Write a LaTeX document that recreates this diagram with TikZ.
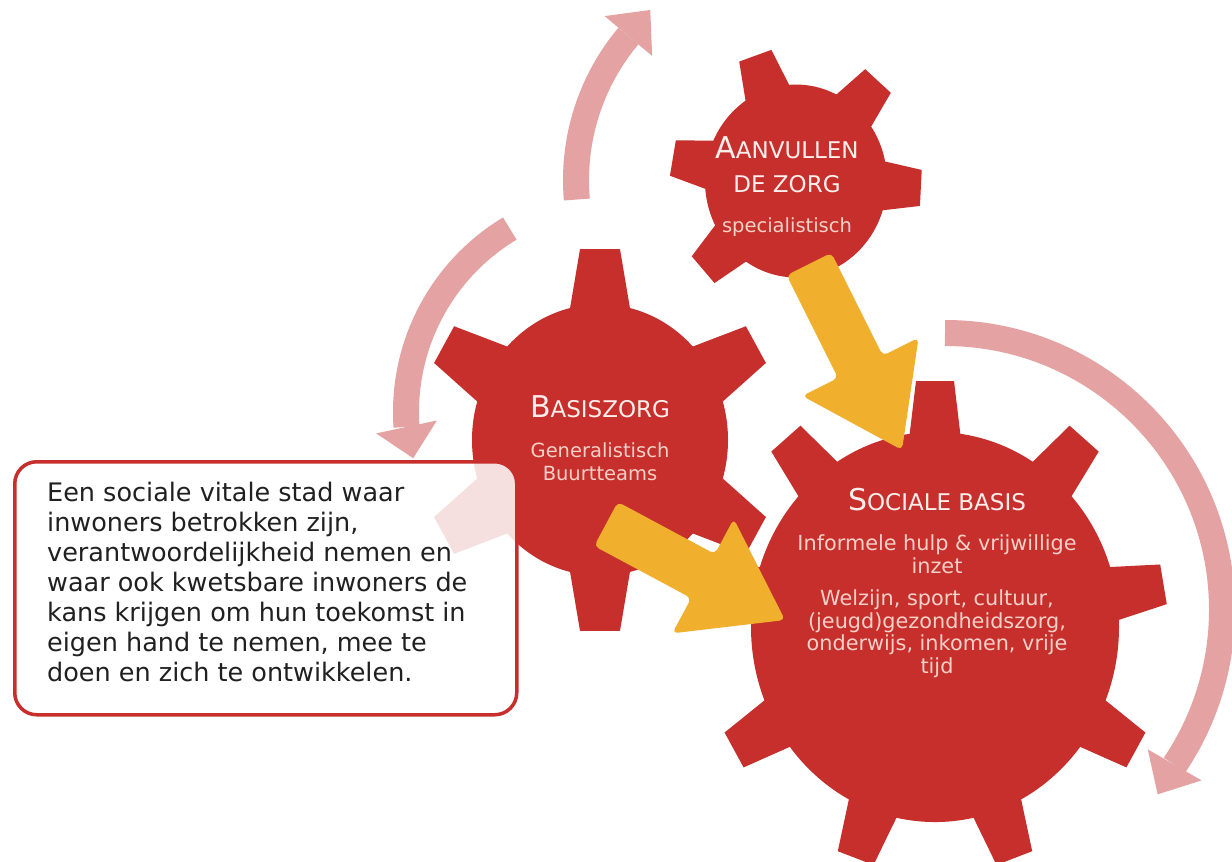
\documentclass[tikz,border=0pt]{standalone}
\usepackage{fontspec}
\setmainfont{DejaVu Sans}
\usetikzlibrary{calc}
\definecolor{gearred}{RGB}{198,47,43}
\definecolor{arrowyellow}{RGB}{240,175,45}
\definecolor{arcpink}{RGB}{228,162,162}
\definecolor{titletxt}{RGB}{253,238,235}
\definecolor{subtxt}{RGB}{247,208,200}
\definecolor{boxtext}{RGB}{32,32,32}
% gear: cx, cy, body radius, tip radius, base half width, tip half width, angles, style
\newcommand\mygear[8]{%
  \path[#8] (#1,#2) circle[radius=#3, y radius=#3*1.06];
  \foreach \a in {#7}{%
    \path[#8, shift={(#1,#2)}, yscale=1.06, rotate=\a]
      (#3-15,-#5) -- (#4,-#6) -- (#4,#6) -- (#3-15,#5) -- cycle;}%
}
% block arrow from tail coordinate #1 to tip coordinate #2
\newcommand\blockarrow[2]{%
  \coordinate (#1s) at ($(#2)!93pt!(#1)$);
  \fill[arrowyellow, rounded corners=5pt]
    ($(#1)!25pt!90:(#2)$) -- ($(#1s)!25pt!90:(#2)$) -- ($(#1s)!65pt!90:(#2)$)
    -- (#2) -- ($(#1s)!65pt!-90:(#2)$) -- ($(#1s)!25pt!-90:(#2)$)
    -- ($(#1)!25pt!-90:(#2)$) -- cycle;%
}
\newcommand\capbig[1]{{\fontsize{30}{30}\selectfont #1}}
\newcommand\capsmall[1]{{\fontsize{23}{23}\selectfont #1}}
\begin{document}
\begin{tikzpicture}[x=1pt,y=-1pt,
  halo/.style={fill=white, draw=white, line width=8pt},
  redfill/.style={fill=gearred},
  band/.style={draw=arcpink, line width=26pt},
  gtitle/.style={text=titletxt, inner sep=0pt, anchor=base},
  gsub/.style={text=subtxt, inner sep=0pt, anchor=base, font=\fontsize{19.5}{22}\selectfont},
  gsubl/.style={text=subtxt, inner sep=0pt, anchor=base, font=\fontsize{20.8}{23}\selectfont},
  boxtxt/.style={text=boxtext, inner sep=0pt, anchor=base west, font=\fontsize{25.5}{30}\selectfont}]
\fill[white] (0,0) rectangle (1232,862);
\useasboundingbox (0,0) rectangle (1232,862);
\clip (0,0) rectangle (1232,862);

% pink circular arrows
\coordinate (c1) at (800,180);
\coordinate (c2) at (620,412);
\coordinate (c3) at (945,610);
\coordinate (p1e) at ([shift={(-140:224)}]c1);
\coordinate (p2e) at ([shift={(-184:214)}]c2);
\coordinate (p3e) at ([shift={(34:277)}]c3);
\draw[band] ([shift={(-185:224)}]c1) arc[start angle=-185, end angle=-140, radius=224];
\fill[arcpink, shift={(p1e)}, rotate=50] (0,-31) -- (34,0) -- (0,31) -- cycle;
\draw[band] ([shift={(-121:214)}]c2) arc[start angle=-121, end angle=-184, radius=214];
\fill[arcpink, shift={(p2e)}, rotate=-78] (0,-31) -- (32,0) -- (0,31) -- cycle;
\draw[band] ([shift={(-90:277)}]c3) arc[start angle=-90, end angle=34, radius=277];
\fill[arcpink, shift={(p3e)}, rotate=-120] (0,-31) -- (34,0) -- (0,31) -- cycle;

% gears
\mygear{796}{181}{91}{125}{25}{17}{109,49,-3,170,222}{halo}
\mygear{796}{181}{91}{125}{25}{17}{109,49,-3,170,222}{redfill}
\mygear{600}{440}{128}{180}{32}{20}{90,30,150,210,270,330}{halo}
\mygear{600}{440}{128}{180}{32}{20}{90,30,150,210,270,330}{redfill}
\mygear{935}{627}{184}{232}{27}{19}{90,50,10,-30,-70,-110,-150,170,130}{halo}
\mygear{935}{627}{184}{232}{27}{19}{90,50,10,-30,-70,-110,-150,170,130}{redfill}

% text box
\node[draw=gearred, line width=3.5pt, rounded corners=22pt, fill=white, fill opacity=0.85,
      minimum width=502pt, minimum height=253pt, anchor=north west, inner sep=0pt] (box) at (13,460) {};
\foreach \t [count=\i from 0] in {{Een sociale vitale stad waar},{inwoners betrokken zijn,},
  {verantwoordelijkheid nemen en},{waar ook kwetsbare inwoners de},
  {kans krijgen om hun toekomst in},{eigen hand te nemen, mee te},
  {doen en zich te ontwikkelen.}}
  \node[boxtxt] (bt\i) at (47,{501+30*\i}) {\t};

% yellow arrows
\coordinate (y1t) at (809,264);
\coordinate (y1h) at (902,450);
\coordinate (y2t) at (606,524);
\coordinate (y2h) at (785,620);
\blockarrow{y1t}{y1h}
\blockarrow{y2t}{y2h}

% gear texts
\node[gtitle] (a1) at (787,158) {\capbig{A}\capsmall{ANVULLEN}};
\node[gtitle] (a2) at (787,192) {\capsmall{DE ZORG}};
\node[gsub] (a3) at (787,232) {specialistisch};
\node[gtitle] (b1) at (600,417) {\capbig{B}\capsmall{ASISZORG}};
\node[gsub] (b2) at (600,457) {Generalistisch};
\node[gsub] (b3) at (600,480) {Buurtteams};
\node[gtitle] (s1) at (937,510) {\capbig{S}\capsmall{OCIALE BASIS}};
\node[gsubl] (s2) at (937,550) {Informele hulp \& vrijwillige};
\node[gsubl] (s3) at (937,573) {inzet};
\node[gsubl] (s4) at (937,605) {Welzijn, sport, cultuur,};
\node[gsubl] (s5) at (937,628) {(jeugd)gezondheidszorg,};
\node[gsubl] (s6) at (937,650) {onderwijs, inkomen, vrije};
\node[gsubl] (s7) at (937,673) {tijd};
\end{tikzpicture}
\end{document}
